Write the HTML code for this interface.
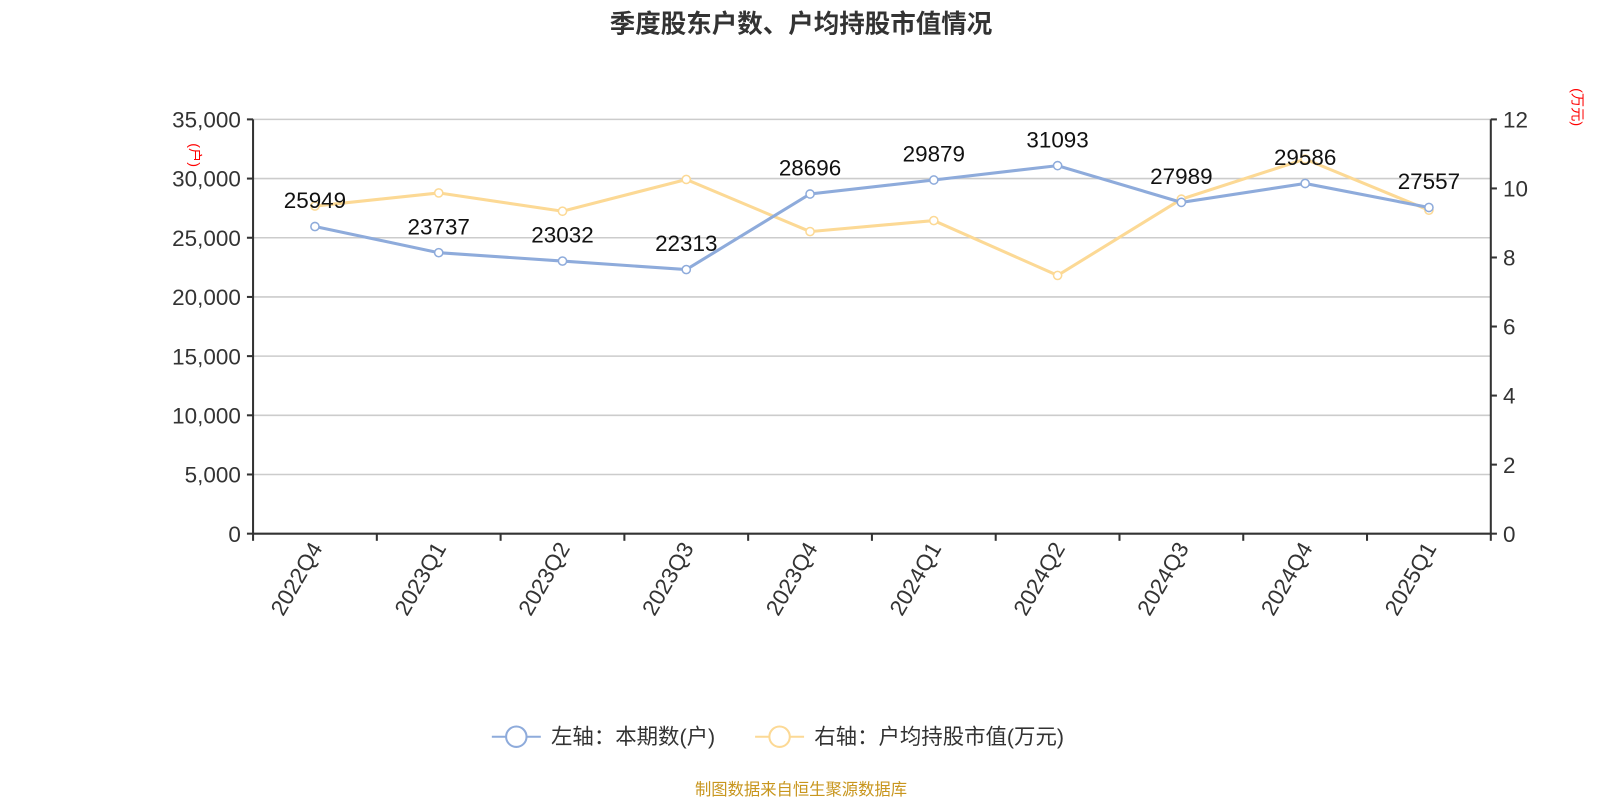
<!DOCTYPE html>
<html><head><meta charset="utf-8">
<style>
body{margin:0;background:#fff;font-family:"Liberation Sans","Noto Sans CJK SC",sans-serif;}
svg text{font-family:"Liberation Sans","Noto Sans CJK SC",sans-serif;}
</style></head>
<body>
<svg id="chart" width="1600" height="800" xmlns="http://www.w3.org/2000/svg">
<g transform="scale(1.0204)">
<text x="785" y="32" text-anchor="middle" font-size="25" font-weight="bold" fill="#333">季度股东户数、户均持股市值情况</text>
<text transform="translate(186,152) rotate(90)" text-anchor="middle" font-size="14" fill="#f00">(户)</text>
<text transform="translate(1541,105) rotate(90)" text-anchor="middle" font-size="14" fill="#f00">(万元)</text>
<g id="grid"></g><g id="axes"></g><g id="series"></g>
<g>
<g>
<line x1="482" y1="722" x2="530" y2="722" stroke="#8eabdb" stroke-width="2"/>
<circle cx="506" cy="722" r="10" fill="#fff" stroke="#8eabdb" stroke-width="2"/>
<text x="540" y="729" font-size="21" fill="#333">左轴：本期数(户)</text></g>
<g>
<line x1="740" y1="722" x2="788" y2="722" stroke="#fcd995" stroke-width="2"/>
<circle cx="764" cy="722" r="10" fill="#fff" stroke="#fcd995" stroke-width="2"/>
<text x="798" y="729" font-size="21" fill="#333">右轴：户均持股市值(万元)</text></g>
</g>
<text x="785" y="779" text-anchor="middle" font-size="16" fill="#c8961e">制图数据来自恒生聚源数据库</text>
</g>
</svg>
<script>
const categories=["2022Q4","2023Q1","2023Q2","2023Q3","2023Q4","2024Q1","2024Q2","2024Q3","2024Q4","2025Q1"];
const holders=[25949,23737,23032,22313,28696,29879,31093,27989,29586,27557];
const avgValue=[9.49,9.87,9.34,10.26,8.75,9.07,7.48,9.69,10.85,9.37];
const leftTicks=[0,5000,10000,15000,20000,25000,30000,35000];
const rightTicks=[0,2,4,6,8,10,12];
const NS="http://www.w3.org/2000/svg";
const L=248,R=1461,T=117,B=523;
const bw=(R-L)/categories.length;
const xs=i=>L+bw*(i+0.5);
const yl=v=>B-(v/35000)*(B-T);
const yr=v=>B-(v/12)*(B-T);
function mk(tag,attrs,parent){const e=document.createElementNS(NS,tag);for(const k in attrs)e.setAttribute(k,attrs[k]);parent.appendChild(e);return e;}
const grid=document.getElementById('grid'),axes=document.getElementById('axes'),series=document.getElementById('series');
leftTicks.forEach(v=>{
  const l=mk('line',{x1:L,x2:R,y1:yl(v),y2:yl(v),stroke:'#ccc','stroke-width':1.5},grid);
  
  
  mk('line',{x1:L-6,x2:L,y1:yl(v),y2:yl(v),stroke:'#333','stroke-width':2},axes);
  const t=mk('text',{x:L-12,y:yl(v)+8,'text-anchor':'end','font-size':22,fill:'#333'},axes);
  t.textContent=v.toLocaleString('en-US');
  
  
});
rightTicks.forEach(v=>{
  mk('line',{x1:R,x2:R+6,y1:yr(v),y2:yr(v),stroke:'#333','stroke-width':2},axes);
  const t=mk('text',{x:R+12,y:yr(v)+8,'font-size':22,fill:'#333'},axes);
  t.textContent=v;
  
  
});
mk('line',{x1:L,x2:L,y1:T,y2:B,stroke:'#333','stroke-width':2},axes);
mk('line',{x1:R,x2:R,y1:T,y2:B,stroke:'#333','stroke-width':2},axes);
mk('line',{x1:L,x2:R,y1:B,y2:B,stroke:'#333','stroke-width':2},axes);
for(let i=0;i<=categories.length;i++)mk('line',{x1:L+bw*i,x2:L+bw*i,y1:B,y2:B+7,stroke:'#333','stroke-width':2},axes);
categories.forEach((c,i)=>{
  const t=mk('text',{transform:`translate(${xs(i)+8},${B+14}) rotate(-60)`,'text-anchor':'end','font-size':22,fill:'#333'},axes);
  t.textContent=c;
  
  
});
function drawLine(vals,yf,color,name,labels){
  const p=mk('polyline',{points:vals.map((v,i)=>xs(i)+','+yf(v)).join(' '),fill:'none',stroke:color,'stroke-width':3},series);
  
  
  vals.forEach((v,i)=>{
    const c=mk('circle',{cx:xs(i),cy:yf(v),r:4,fill:'#fff',stroke:color,'stroke-width':1.5},series);
    
    
    if(labels){
      const t=mk('text',{x:xs(i),y:yf(v)-18,'text-anchor':'middle','font-size':22,fill:'#111'},series);
      t.textContent=v;
      
      
    }
  });
}
drawLine(avgValue,yr,'#fcd995','avg-value',false);
drawLine(holders,yl,'#8eabdb','holders',true);
</script>
</body></html>
